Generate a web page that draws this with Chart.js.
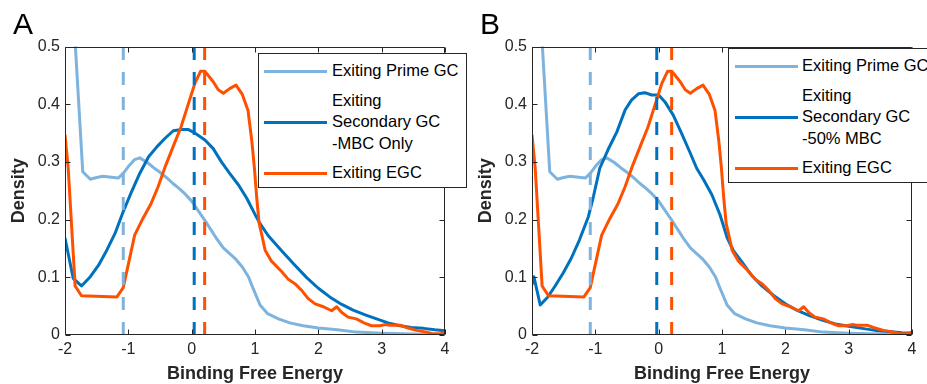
<!DOCTYPE html>
<html><head><meta charset="utf-8">
<script src="https://cdn.jsdelivr.net/npm/chart.js@4.4.1/dist/chart.umd.min.js"></script>
<style>
html,body{margin:0;padding:0;background:#fff;overflow:hidden;width:927px;height:384px;}
#wrap{position:relative;width:927px;height:384px;overflow:hidden;font-family:"Liberation Sans",Arial,sans-serif;}
canvas{position:absolute;top:0;}
.panel{position:absolute;font-size:30px;line-height:30px;color:#000;top:9px;}
.legend{position:absolute;background:#fff;border:1px solid #262626;box-sizing:border-box;width:209px;height:135px;}
.sample{position:absolute;height:3px;width:63px;}
.ltext{position:absolute;font-size:16.5px;line-height:21.5px;color:#000;white-space:nowrap;left:73px;}
</style></head>
<body><div id="wrap">
<canvas id="cA" width="470" height="384" style="left:0px;width:470px;height:384px"></canvas>
<canvas id="cB" width="460" height="384" style="left:467px;width:460px;height:384px"></canvas>
<div class="panel" style="left:13px">A</div>
<div class="panel" style="left:480px">B</div>
<div class="legend" id="legA" style="left:258px;top:53px"></div>
<div class="legend" id="legB" style="left:728px;top:48px"></div>
</div>
<script>
// ---- data ----
const xTickValues = [-2, -1, 0, 1, 2, 3, 4];
const yTickValues = [0, 0.1, 0.2, 0.3, 0.4, 0.5];

// Exiting Prime GC (same in both panels)
const primeX = [-2, -1.9, -1.72, -1.6, -1.5, -1.4, -1.3, -1.16, -1.08, -1.0, -0.9, -0.82, -0.7, -0.6, -0.5, -0.4, -0.3, -0.2, -0.1, 0, 0.1, 0.2, 0.3, 0.4, 0.5, 0.6, 0.7, 0.8, 0.9, 0.95, 1.08, 1.2, 1.37, 1.55, 1.76, 2.0, 2.3, 2.6, 3.0, 3.5, 4.0];
const primeY = [0.90, 0.62, 0.283, 0.270, 0.273, 0.275, 0.274, 0.272, 0.280, 0.292, 0.304, 0.307, 0.299, 0.290, 0.282, 0.273, 0.263, 0.254, 0.244, 0.232, 0.216, 0.200, 0.183, 0.166, 0.151, 0.141, 0.131, 0.118, 0.100, 0.086, 0.052, 0.037, 0.028, 0.021, 0.016, 0.012, 0.009, 0.005, 0.003, 0.0017, 0.0006];

// Exiting EGC (same in both panels)
const egcX = [-2, -1.95, -1.84, -1.74, -1.18, -1.08, -0.9, -0.77, -0.64, -0.53, -0.41, -0.28, -0.17, -0.06, 0.05, 0.14, 0.21, 0.34, 0.42, 0.5, 0.6, 0.7, 0.8, 0.89, 0.95, 0.99, 1.03, 1.065, 1.11, 1.16, 1.26, 1.42, 1.53, 1.63, 1.74, 1.84, 1.95, 2.08, 2.21, 2.29, 2.37, 2.47, 2.6, 2.74, 2.84, 2.97, 3.05, 3.13, 3.29, 3.39, 3.55, 3.71, 3.82, 3.92, 4.0];
const egcY = [0.347, 0.29, 0.085, 0.068, 0.066, 0.082, 0.173, 0.202, 0.228, 0.257, 0.294, 0.33, 0.36, 0.398, 0.436, 0.457, 0.457, 0.439, 0.425, 0.419, 0.427, 0.433, 0.417, 0.389, 0.336, 0.29, 0.234, 0.194, 0.172, 0.147, 0.128, 0.11, 0.096, 0.089, 0.077, 0.063, 0.054, 0.049, 0.042, 0.049, 0.039, 0.031, 0.028, 0.02, 0.016, 0.016, 0.018, 0.017, 0.017, 0.013, 0.008, 0.005, 0.002, 0.002, 0.005];

// Exiting Secondary GC -MBC Only (panel A)
const secAX = [-2, -1.87, -1.74, -1.6, -1.47, -1.34, -1.21, -1.08, -0.95, -0.82, -0.68, -0.55, -0.42, -0.29, -0.16, -0.05, 0.05, 0.21, 0.34, 0.47, 0.6, 0.74, 0.87, 1.0, 1.08, 1.21, 1.42, 1.63, 1.82, 2.0, 2.18, 2.37, 2.55, 2.74, 2.92, 3.1, 3.29, 3.47, 3.66, 3.84, 4.0];
const secAY = [0.168, 0.098, 0.085, 0.101, 0.121, 0.147, 0.176, 0.214, 0.248, 0.28, 0.309, 0.326, 0.341, 0.354, 0.356, 0.356, 0.35, 0.338, 0.323, 0.30, 0.28, 0.26, 0.237, 0.209, 0.193, 0.172, 0.146, 0.121, 0.099, 0.081, 0.066, 0.053, 0.043, 0.035, 0.028, 0.021, 0.016, 0.013, 0.0115, 0.009, 0.0075];

// Exiting Secondary GC -50% MBC (panel B)
const secBX = [-2, -1.97, -1.87, -1.75, -1.64, -1.51, -1.38, -1.25, -1.11, -1.03, -0.93, -0.8, -0.66, -0.53, -0.43, -0.32, -0.22, -0.11, 0.0, 0.1, 0.23, 0.36, 0.5, 0.6, 0.71, 0.84, 0.97, 1.08, 1.18, 1.32, 1.47, 1.63, 1.82, 2.0, 2.18, 2.37, 2.58, 2.79, 3.0, 3.21, 3.42, 3.63, 3.84, 4.0];
const secBY = [0.087, 0.101, 0.052, 0.066, 0.084, 0.107, 0.133, 0.165, 0.205, 0.24, 0.289, 0.321, 0.352, 0.39, 0.407, 0.418, 0.42, 0.416, 0.416, 0.404, 0.381, 0.35, 0.315, 0.289, 0.269, 0.243, 0.208, 0.169, 0.146, 0.126, 0.103, 0.085, 0.068, 0.054, 0.043, 0.034, 0.026, 0.019, 0.015, 0.0115, 0.008, 0.006, 0.004, 0.0035];

// mean markers (dashed lines): [Prime, Secondary, EGC]
const meansA = [-1.08, 0.04, 0.205];
const meansB = [-1.08, -0.03, 0.205];

const labelsA = ['Exiting Prime GC', ['Exiting', 'Secondary GC', '-MBC Only'], 'Exiting EGC'];
const labelsB = ['Exiting Prime GC', ['Exiting', 'Secondary GC', '-50% MBC'], 'Exiting EGC'];

const colors = ['#7EB3DE', '#0072BD', '#FF5000'];
const FONT = '"Liberation Sans", Arial, sans-serif';

function pts(xs, ys) { return xs.map((x, i) => ({x: x, y: ys[i]})); }
function vline(v) { return [{x: v, y: yTickValues[0]}, {x: v, y: yTickValues[yTickValues.length - 1]}]; }

const boxPlugin = {
  id: 'matlabBox',
  afterDraw(chart) {
    const {ctx, chartArea: a, scales} = chart;
    const L = Math.round(a.left) + 0.5, R = Math.round(a.right) - 0.5;
    const T = Math.round(a.top) + 0.5, B = Math.round(a.bottom) - 0.5;
    ctx.save();
    ctx.strokeStyle = '#262626';
    ctx.lineWidth = 1;
    ctx.beginPath();
    ctx.rect(L, T, R - L, B - T);
    xTickValues.forEach(v => {
      const px = Math.round(scales.x.getPixelForValue(v)) + 0.5;
      ctx.moveTo(px, B); ctx.lineTo(px, B - 5);
      ctx.moveTo(px, T); ctx.lineTo(px, T + 5);
    });
    yTickValues.forEach(v => {
      const py = Math.round(scales.y.getPixelForValue(v)) + 0.5;
      ctx.moveTo(L, py); ctx.lineTo(L + 5, py);
      ctx.moveTo(R, py); ctx.lineTo(R - 5, py);
    });
    ctx.stroke();
    ctx.restore();
  }
};

function makeChart(id, secX, secY, means, rightPad) {
  const solid = (data, color, order) => ({data: data, borderColor: color, borderWidth: 3, pointRadius: 0, tension: 0, fill: false, borderJoinStyle: 'round', order: order, clip: 0});
  const dashed = (v, color) => ({data: vline(v), borderColor: color, borderWidth: 3, pointRadius: 0, borderDash: [13, 12], fill: false, order: 0, clip: 0});
  return new Chart(document.getElementById(id), {
    type: 'line',
    data: {
      datasets: [
        dashed(means[0], colors[0]),
        dashed(means[1], colors[1]),
        dashed(means[2], colors[2]),
        solid(pts(egcX, egcY), colors[2], 1),
        solid(pts(secX, secY), colors[1], 2),
        solid(pts(primeX, primeY), colors[0], 3)
      ]
    },
    options: {
      responsive: false,
      animation: false,
      devicePixelRatio: 1,
      layout: {padding: {left: 0, right: rightPad, top: 46.5, bottom: 0}},
      plugins: {legend: {display: false}, tooltip: {enabled: false}},
      scales: {
        x: {
          type: 'linear', min: xTickValues[0], max: xTickValues[xTickValues.length - 1],
          afterBuildTicks: s => { s.ticks = xTickValues.map(v => ({value: v})); },
          afterFit: s => { s.height = 49; },
          grid: {display: false, drawTicks: false},
          border: {display: false},
          ticks: {autoSkip: false, maxRotation: 0, padding: 5, color: '#262626', font: {family: FONT, size: 16}, callback: v => String(v)},
          title: {display: true, text: 'Binding Free Energy', color: '#262626', font: {family: FONT, size: 18, weight: 'bold', lineHeight: 1}, padding: {top: 0, bottom: 1}}
        },
        y: {
          type: 'linear', min: yTickValues[0], max: yTickValues[yTickValues.length - 1],
          afterBuildTicks: s => { s.ticks = yTickValues.map(v => ({value: v})); },
          afterFit: s => { s.width = 65; },
          grid: {display: false, drawTicks: false},
          border: {display: false},
          ticks: {autoSkip: false, padding: 5, color: '#262626', font: {family: FONT, size: 16}, callback: v => String(v)},
          title: {display: true, text: 'Density', color: '#262626', font: {family: FONT, size: 18, weight: 'bold', lineHeight: 1}, padding: {top: 10, bottom: 0}}
        }
      }
    },
    plugins: [boxPlugin]
  });
}

function makeLegend(id, labels, sampleLeft) {
  const box = document.getElementById(id);
  const centers = [17, 68, 119];
  labels.forEach((lab, i) => {
    const lines = Array.isArray(lab) ? lab : [lab];
    const s = document.createElement('div');
    s.className = 'sample';
    s.style.background = colors[i];
    s.style.left = sampleLeft + 'px';
    s.style.top = (centers[i] - 1.5) + 'px';
    box.appendChild(s);
    const t = document.createElement('div');
    t.className = 'ltext';
    t.style.top = (centers[i] - lines.length * 21.5 / 2) + 'px';
    t.innerHTML = lines.map(l => l.replace(/&/g, '&amp;').replace(/</g, '&lt;')).join('<br>');
    box.appendChild(t);
  });
}

makeChart('cA', secAX, secAY, meansA, 25);
makeChart('cB', secBX, secBY, meansB, 15);
makeLegend('legA', labelsA, 5);
makeLegend('legB', labelsB, 6);
</script>
</body></html>
